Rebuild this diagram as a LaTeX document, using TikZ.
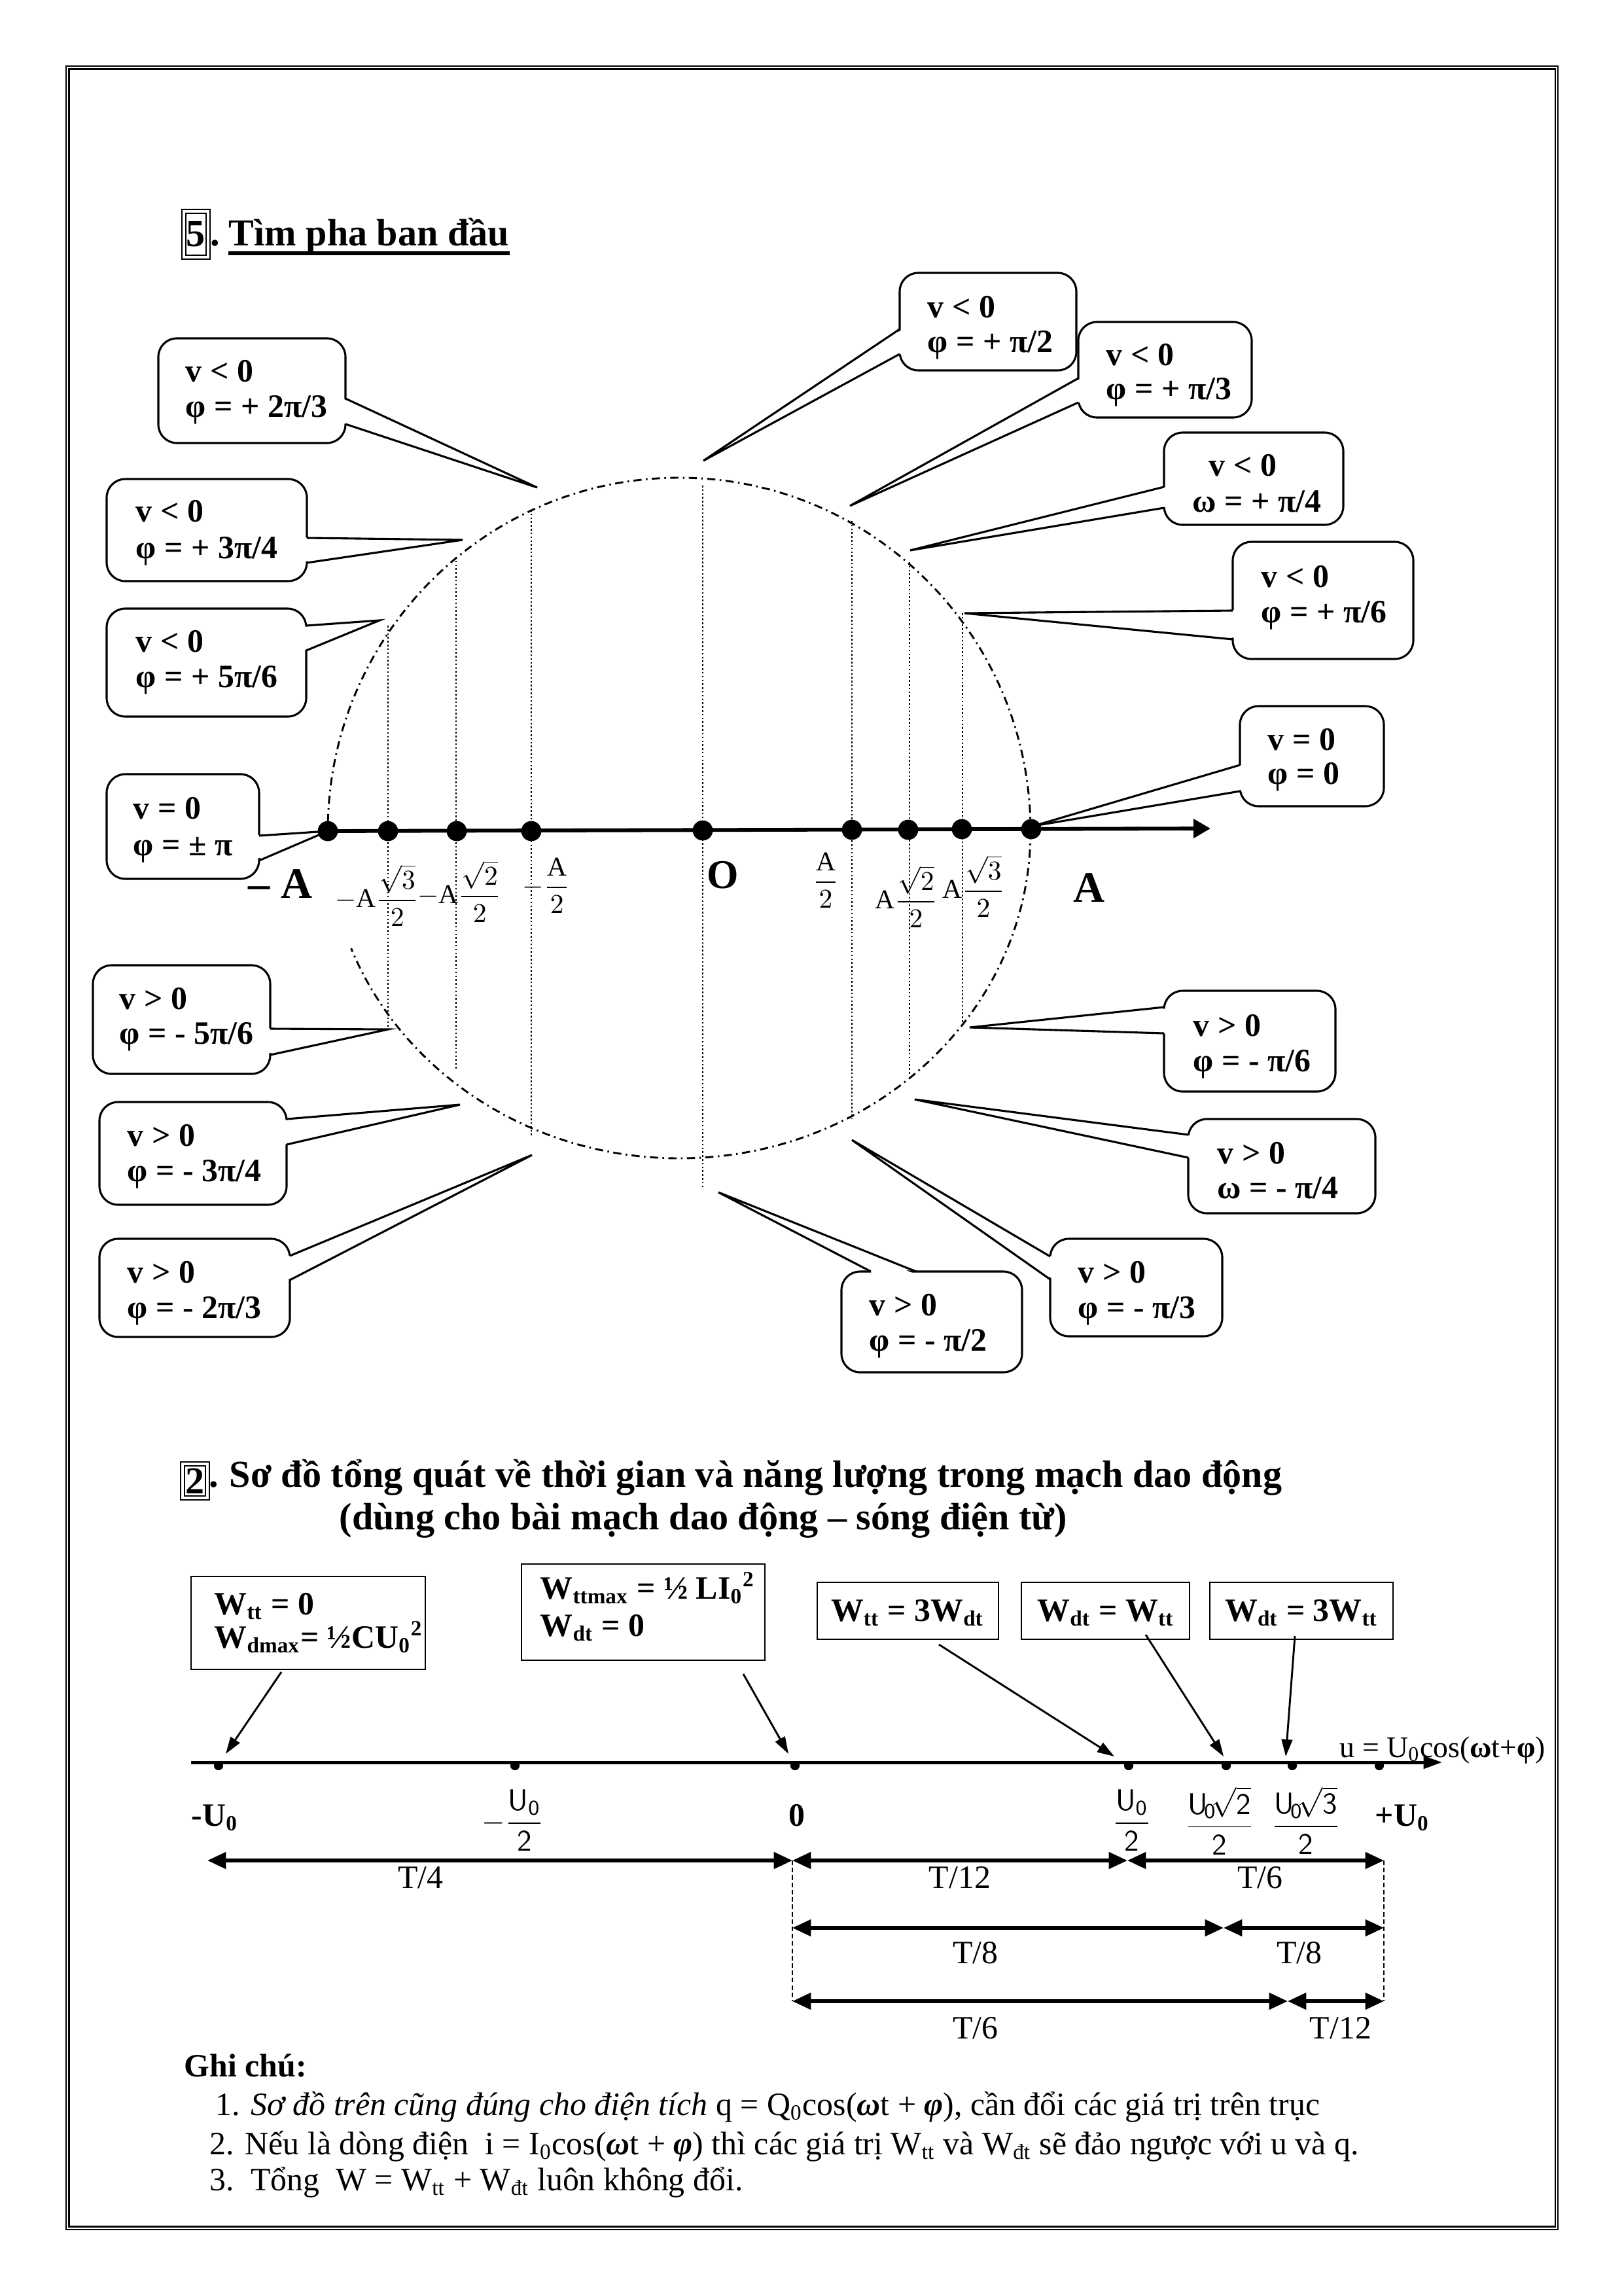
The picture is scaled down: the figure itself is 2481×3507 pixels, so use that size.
\documentclass[tikz,border=0pt]{standalone}
\usepackage{amsmath}
\usepackage{fontspec}
\setmainfont{Liberation Serif}
\usetikzlibrary{arrows.meta,calc,fit}
\newcommand{\ptr}[4]{%
  \fill[white] ($(#2)!0.45mm!(#1.center)$) -- (#3) -- ($(#4)!0.45mm!(#1.center)$) -- cycle;
  \draw[cl] (#2) -- (#3) -- (#4);}
\begin{document}
\begin{tikzpicture}[x=0.08464mm,y=-0.08464mm,
  cbox/.style={draw,line width=0.75pt,rounded corners=2.4mm,inner sep=0pt,fill=white},
  cl/.style={line width=0.75pt},
  ct/.style={font=\fontsize{12}{14}\selectfont\bfseries,inner sep=0pt,anchor=base west},
  dd/.style={line width=0.7pt,dash pattern=on 3pt off 1.6pt on 0.6pt off 1.6pt},
  vd/.style={line width=0.5pt,dash pattern=on 0.6pt off 0.8pt},
  dot/.style={circle,fill,inner sep=0pt,minimum size=2.6mm},
  sdot/.style={circle,fill,inner sep=0pt,minimum size=1.2mm},
  frac/.style={inner sep=0pt,font=\fontsize{10}{12}\selectfont},
  sfrac/.style={inner sep=0pt,font=\fontsize{11}{13}\selectfont},
  numbox/.style={draw,double,double distance=0.9pt,line width=0.5pt,inner sep=0pt},
  wbox/.style={draw,line width=0.6pt,inner sep=0pt},
  wt/.style={font=\fontsize{12}{14}\selectfont\bfseries,inner sep=0pt},
  warr/.style={line width=0.7pt,-{Triangle[length=2.2mm,width=1.4mm]}},
  dar/.style={line width=1.3pt,{Triangle[length=2.4mm,width=2.1mm]}-{Triangle[length=2.4mm,width=2.1mm]}},
  tl/.style={font=\fontsize{12}{14}\selectfont,inner sep=0pt,anchor=base},
  nt/.style={font=\fontsize{12}{14}\selectfont,inner sep=0pt,anchor=base west}
]
\useasboundingbox (0,0) rectangle (2481,3507);
% page frame
\draw[line width=0.5pt] (101,101) rectangle (2381,3407);
\draw[line width=0.7pt] (105.5,105.5) rectangle (2377,3402.5);

% ===== Section 5 title =====
\node[numbox,fit={(281,323)(318,393)}] (n5) {};
\node[inner sep=0pt,font=\fontsize{14}{16}\selectfont\bfseries] (n5t) at (n5.center) {5};
\node[inner sep=0pt,anchor=base west,font=\fontsize{14}{16}\selectfont\bfseries] (n5d) at (321,375) {.};
\node[inner sep=0pt,anchor=base west,font=\fontsize{14}{16}\selectfont\bfseries] (t5) at (349,375) {Tìm pha ban đầu};
\draw[line width=1.4pt] (t5.base west |- 0,387) -- (t5.base east |- 0,387);

% ===== circle =====
\coordinate (C) at (1038,1270);
\draw[dd] (1575,1270) arc[start angle=360,end angle=180,x radius=537,y radius=540];
\draw[dd] (1575,1270) arc[start angle=0,end angle=159,x radius=537,y radius=500];
% vertical dotted lines
\draw[vd] (593,956) -- (593,1573);
\draw[vd] (697,851) -- (697,1635);
\draw[vd] (812,779) -- (812,1738);
\draw[vd] (1074,742) -- (1074,1817);
\draw[vd] (1302,796) -- (1302,1709);
\draw[vd] (1390,859) -- (1390,1641);
\draw[vd] (1471,937) -- (1471,1566);

% ===== callouts =====
% c1
\node[cbox,fit={(242,517)(528,677)}] (c1) {};
\node[ct] (c1a) at (283,583) {v < 0};
\node[ct] (c1b) at (283,637) {φ = + 2π/3};
\coordinate (t1) at (821,745);
\ptr{c1}{528,609}{t1}{528,648}
% c2
\node[cbox,fit={(163,732)(469,888)}] (c2) {};
\node[ct] (c2a) at (207,797) {v < 0};
\node[ct] (c2b) at (207,853) {φ = + 3π/4};
\coordinate (t2) at (707,825);
\ptr{c2}{469,822}{t2}{469,860}
% c3
\node[cbox,fit={(163,930)(468,1095)}] (c3) {};
\node[ct] (c3a) at (207,996) {v < 0};
\node[ct] (c3b) at (207,1050) {φ = + 5π/6};
\coordinate (t3) at (580,948);
\ptr{c3}{468,956}{t3}{468,994}
% c4
\node[cbox,fit={(163,1183)(396,1343)}] (c4) {};
\node[ct] (c4a) at (203,1251) {v = 0};
\node[ct] (c4b) at (203,1307) {φ = ± π};
\coordinate (t4) at (501,1270);
\ptr{c4}{396,1277}{t4}{396,1315}
% c5
\node[cbox,fit={(142,1475)(413,1641)}] (c5) {};
\node[ct] (c5a) at (182,1542) {v > 0};
\node[ct] (c5b) at (182,1595) {φ = - 5π/6};
\coordinate (t5p) at (593,1573);
\ptr{c5}{413,1572}{t5p}{413,1612}
% c6
\node[cbox,fit={(152,1684)(438,1841)}] (c6) {};
\node[ct] (c6a) at (194,1751) {v > 0};
\node[ct] (c6b) at (194,1805) {φ = - 3π/4};
\coordinate (t6) at (703,1688);
\ptr{c6}{438,1710}{t6}{438,1749}
% c7
\node[cbox,fit={(152,1893)(443,2043)}] (c7) {};
\node[ct] (c7a) at (194,1960) {v > 0};
\node[ct] (c7b) at (194,2014) {φ = - 2π/3};
\coordinate (t7) at (813,1765);
\ptr{c7}{443,1919}{t7}{443,1956}
% c8
\node[cbox,fit={(1375,417)(1645,566)}] (c8) {};
\node[ct] (c8a) at (1417,485) {v < 0};
\node[ct] (c8b) at (1417,538) {φ = + π/2};
\coordinate (t8) at (1075,704);
\ptr{c8}{1375,503}{t8}{1375,541}
% c9
\node[cbox,fit={(1648,492)(1913,638)}] (c9) {};
\node[ct] (c9a) at (1690,558) {v < 0};
\node[ct] (c9b) at (1690,610) {φ = + π/3};
\coordinate (t9) at (1299,773);
\ptr{c9}{1648,578}{t9}{1648,615}
% c10
\node[cbox,fit={(1779,661)(2053,802)}] (c10) {};
\node[ct] (c10a) at (1847,727) {v < 0};
\node[ct] (c10b) at (1822,782) {ω = + π/4};
\coordinate (t10) at (1391,841);
\ptr{c10}{1779,744}{t10}{1779,776}
% c11
\node[cbox,fit={(1884,828)(2160,1007)}] (c11) {};
\node[ct] (c11a) at (1927,897) {v < 0};
\node[ct] (c11b) at (1927,951) {φ = + π/6};
\coordinate (t11) at (1474,937);
\ptr{c11}{1884,933}{t11}{1884,977}
% c12
\node[cbox,fit={(1895,1079)(2115,1232)}] (c12) {};
\node[ct] (c12a) at (1937,1146) {v = 0};
\node[ct] (c12b) at (1937,1198) {φ = 0};
\coordinate (t12) at (1580,1262);
\ptr{c12}{1895,1169}{t12}{1895,1209}
% c13
\node[cbox,fit={(1779,1514)(2041,1668)}] (c13) {};
\node[ct] (c13a) at (1823,1583) {v > 0};
\node[ct] (c13b) at (1823,1637) {φ = - π/6};
\coordinate (t13) at (1482,1570);
\ptr{c13}{1779,1539}{t13}{1779,1579}
% c14
\node[cbox,fit={(1816,1710)(2102,1854)}] (c14) {};
\node[ct] (c14a) at (1860,1778) {v > 0};
\node[ct] (c14b) at (1860,1831) {ω = - π/4};
\coordinate (t14) at (1398,1680);
\ptr{c14}{1816,1734}{t14}{1816,1769}
% c15
\node[cbox,fit={(1605,1893)(1868,2042)}] (c15) {};
\node[ct] (c15a) at (1647,1960) {v > 0};
\node[ct] (c15b) at (1647,2014) {φ = - π/3};
\coordinate (t15) at (1302,1742);
\ptr{c15}{1605,1920}{t15}{1605,1955}
% c16
\node[cbox,fit={(1286,1943)(1562,2097)}] (c16) {};
\node[ct] (c16a) at (1328,2010) {v > 0};
\node[ct] (c16b) at (1328,2064) {φ = - π/2};
\coordinate (t16) at (1098,1822);
\ptr{c16}{1331,1943}{t16}{1400,1943}

% ===== axis =====
\coordinate (pA) at (501,1270);
\coordinate (ax1) at (1850,1266);
\draw[line width=1.4pt,-{Triangle[length=2.2mm,width=2.4mm]}] (pA) -- (ax1);
\node[dot] (dmA) at (pA) {};
\node[dot] (dm3) at (593,1270) {};
\node[dot] (dm2) at (698,1270) {};
\node[dot] (dm1) at (812,1270) {};
\node[dot] (dO) at (1074,1269) {};
\node[dot] (dp1) at (1302,1268) {};
\node[dot] (dp2) at (1388,1268) {};
\node[dot] (dp3) at (1470,1267) {};
\node[dot] (dpA) at (1576,1267) {};
% labels
\node[inner sep=0pt,anchor=base east,font=\fontsize{16}{18}\selectfont\bfseries] (lmA) at (478,1372) {– A};
\node[inner sep=0pt,anchor=base,font=\fontsize{15}{17}\selectfont\bfseries] (lO) at (1105,1357) {O};
\node[inner sep=0pt,anchor=base,font=\fontsize{16}{18}\selectfont\bfseries] (lpA) at (1664,1378) {A};
\node[frac] (lm3) at (576,1368) {$-\mathrm{A}\dfrac{\sqrt{3}}{2}$};
\node[frac] (lm2) at (702,1362) {$-\mathrm{A}\dfrac{\sqrt{2}}{2}$};
\node[frac] (lm1) at (835,1353) {$-\dfrac{\mathrm{A}}{2}$};
\node[frac] (lp1) at (1262,1345) {$\dfrac{\mathrm{A}}{2}$};
\node[frac] (lp2) at (1385,1370) {$\mathrm{A}\dfrac{\sqrt{2}}{2}$};
\node[frac] (lp3) at (1488,1354) {$\mathrm{A}\dfrac{\sqrt{3}}{2}$};

% ===== Section 2 title =====
\node[numbox,fit={(279,2237)(317,2289)}] (n2) {};
\node[inner sep=0pt,font=\fontsize{14}{16}\selectfont\bfseries] (n2t) at (n2.center) {2};
\node[inner sep=0pt,anchor=base west,font=\fontsize{14}{16}\selectfont\bfseries] (n2d) at (319,2272) {.};
\node[inner sep=0pt,anchor=base west,font=\fontsize{14}{16}\selectfont\bfseries] (s2a) at (350,2272) {Sơ đồ tổng quát về thời gian và năng lượng trong mạch dao động};
\node[inner sep=0pt,anchor=base west,font=\fontsize{14}{16}\selectfont\bfseries] (s2b) at (518,2337) {(dùng cho bài mạch dao động – sóng điện từ)};

% ===== energy boxes =====
\node[wbox,fit={(292,2409)(650,2551)}] (w1) {};
\node[wt,anchor=base west] (w1a) at (327,2467) {W\textsubscript{tt} = 0};
\node[wt,anchor=base west] (w1b) at (327,2518) {W\textsubscript{dmax}= ½CU\textsubscript{0}\textsuperscript{2}};
\node[wbox,fit={(797,2390)(1169,2537)}] (w2) {};
\node[wt,anchor=base west] (w2a) at (825,2443) {W\textsubscript{ttmax} = ½ LI\textsubscript{0}\textsuperscript{2}};
\node[wt,anchor=base west] (w2b) at (825,2500) {W\textsubscript{dt} = 0};
\node[wbox,fit={(1249,2418)(1526,2505)}] (w3) {};
\node[wt,anchor=base] (w3a) at (1387,2477) {W\textsubscript{tt} = 3W\textsubscript{dt}};
\node[wbox,fit={(1561,2418)(1818,2505)}] (w4) {};
\node[wt,anchor=base] (w4a) at (1690,2477) {W\textsubscript{dt} = W\textsubscript{tt}};
\node[wbox,fit={(1849,2418)(2129,2505)}] (w5) {};
\node[wt,anchor=base] (w5a) at (1989,2477) {W\textsubscript{dt} = 3W\textsubscript{tt}};

% ===== u axis =====
\coordinate (bx0) at (292,2693);
\coordinate (bx1) at (2204,2693);
\draw[line width=1.2pt,-{Triangle[length=2.4mm,width=1.6mm]}] (bx0) -- (bx1);
\node[inner sep=0pt,anchor=base west,font=\fontsize{11}{13}\selectfont] (ulab) at (2047,2685) {u = U\textsubscript{0}cos(\textbf{ω}t+\textbf{φ})};
\node[sdot] (e1) at (334,2698) {};
\node[sdot] (e2) at (787,2698) {};
\node[sdot] (e3) at (1215,2698) {};
\node[sdot] (e4) at (1725,2698) {};
\node[sdot] (e5) at (1874,2698) {};
\node[sdot] (e6) at (1975,2698) {};
\node[sdot] (e7) at (2108,2698) {};
% arrows from boxes
\coordinate (a1s) at (430,2555); \coordinate (a1e) at (345,2680);
\coordinate (a2s) at (1136,2558); \coordinate (a2e) at (1205,2680);
\coordinate (a3s) at (1435,2513); \coordinate (a3e) at (1703,2684);
\coordinate (a4s) at (1751,2498); \coordinate (a4e) at (1870,2684);
\coordinate (a5s) at (1979,2500); \coordinate (a5e) at (1965,2684);
\draw[warr] (a1s) -- (a1e);
\draw[warr] (a2s) -- (a2e);
\draw[warr] (a3s) -- (a3e);
\draw[warr] (a4s) -- (a4e);
\draw[warr] (a5s) -- (a5e);
% axis labels
\node[inner sep=0pt,anchor=base west,font=\fontsize{12}{14}\selectfont\bfseries] (um) at (292,2790) {-U\textsubscript{0}};
\node[sfrac] (um2) at (784,2782) {$-\dfrac{\mathsf{U}_{\mathsf{0}}}{\mathsf{2}}$};
\node[inner sep=0pt,anchor=base,font=\fontsize{12}{14}\selectfont\bfseries] (uz) at (1218,2790) {0};
\node[sfrac] (up2) at (1730,2782) {$\dfrac{\mathsf{U}_{\mathsf{0}}}{\mathsf{2}}$};
\node[sfrac] (upr2) at (1864,2782) {$\dfrac{\mathsf{U}_{\!\mathsf{0}}\!\sqrt{\mathsf{2}}}{\mathsf{2}}$};
\node[sfrac] (upr3) at (1996,2782) {$\dfrac{\mathsf{U}_{\!\mathsf{0}}\!\sqrt{\mathsf{3}}}{\mathsf{2}}$};
\node[inner sep=0pt,anchor=base west,font=\fontsize{12}{14}\selectfont\bfseries] (up) at (2101,2790) {+U\textsubscript{0}};

% ===== time rows =====
\coordinate (r1a) at (317,2843); \coordinate (r1b) at (1211,2843);
\coordinate (r1c) at (1723,2843); \coordinate (r1d) at (2115,2843);
\coordinate (r2a) at (1211,2946); \coordinate (r2b) at (1870,2946); \coordinate (r2c) at (2115,2946);
\coordinate (r3a) at (1211,3058); \coordinate (r3b) at (1968,3058); \coordinate (r3c) at (2115,3058);
\draw[line width=0.6pt,dash pattern=on 1.7pt off 1pt] (r1b) -- (r3a);
\draw[line width=0.6pt,dash pattern=on 1.7pt off 1pt] (r1d) -- (r3c);
\draw[dar] (r1a) -- (r1b);
\draw[dar] (r1b) -- (r1c);
\draw[dar] (r1c) -- (r1d);
\draw[dar] (r2a) -- (r2b);
\draw[dar] (r2b) -- (r2c);
\draw[dar] (r3a) -- (r3b);
\draw[dar] (r3b) -- (r3c);
\node[tl] (l1) at (643,2885) {T/4};
\node[tl] (l2) at (1467,2885) {T/12};
\node[tl] (l3) at (1926,2885) {T/6};
\node[tl] (l4) at (1491,3000) {T/8};
\node[tl] (l5) at (1986,3000) {T/8};
\node[tl] (l6) at (1491,3115) {T/6};
\node[tl] (l7) at (2049,3115) {T/12};

% ===== notes =====
\node[nt,font=\fontsize{12}{14}\selectfont\bfseries] (gc) at (281,3173) {Ghi chú:};
\node[nt] (g1) at (329,3232) {1. \textit{Sơ đồ trên cũng đúng cho điện tích} q = Q\textsubscript{0}cos(\textbf{\textit{ω}}t + \textbf{\textit{φ}}), cần đổi các giá trị trên trục};
\node[nt] (g2) at (320,3292) {2. Nếu là dòng điện\ \ i = I\textsubscript{0}cos(\textbf{\textit{ω}}t + \textbf{\textit{φ}}) thì các giá trị W\textsubscript{tt} và W\textsubscript{đt} sẽ đảo ngược với u và q.};
\node[nt] (g3) at (320,3347) {3.\ \ Tổng\ \ W = W\textsubscript{tt} + W\textsubscript{đt} luôn không đổi.};
\end{tikzpicture}
\end{document}
